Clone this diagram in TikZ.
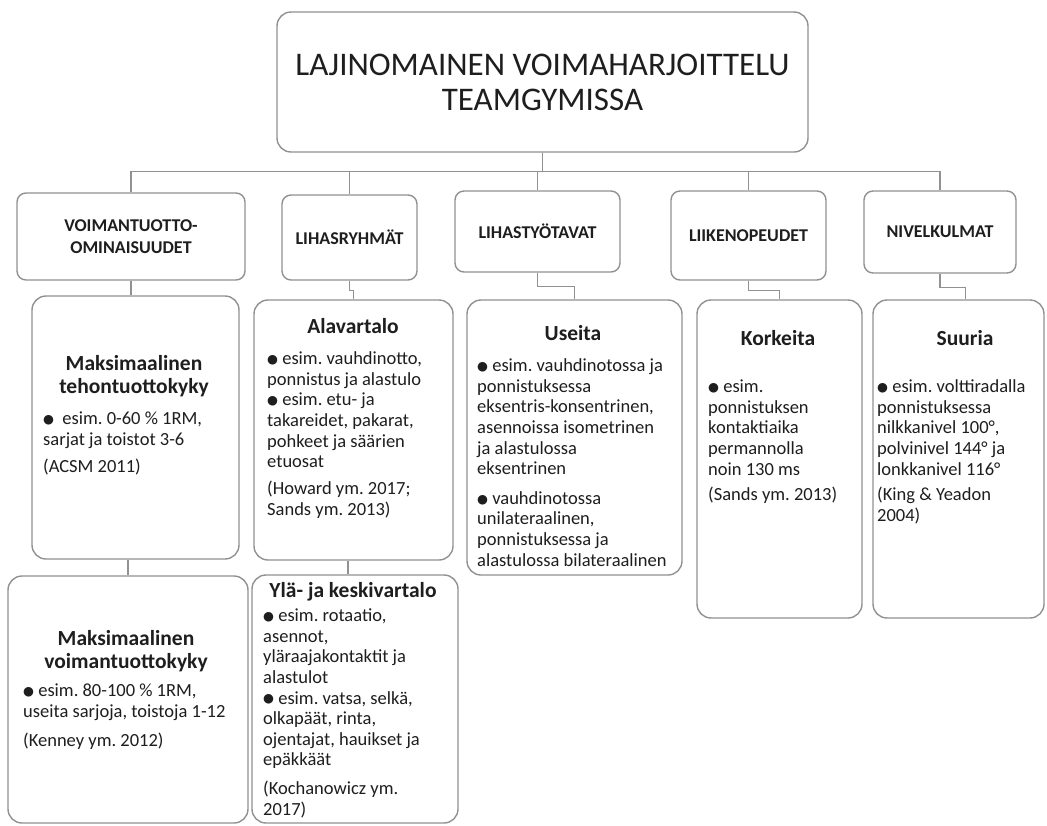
\documentclass[tikz,border=0pt]{standalone}
\usepackage{fontspec}
\setmainfont{Carlito}
\newfontfamily\dejavu{DejaVu Sans}
\newcommand\bul{{\raisebox{1.2pt}{\dejavu\fontsize{12.5}{12}\selectfont ●}}}
\definecolor{lg}{RGB}{145,145,145}
\definecolor{tc}{RGB}{30,30,30}
\frenchspacing
\begin{document}
\frenchspacing
\begin{tikzpicture}[x=1pt,y=-1pt,
  box/.style={draw=lg, line width=1.4pt, rounded corners=14pt, inner sep=0pt, fill=white},
  hdr/.style={box, rounded corners=9pt, align=center, font=\bfseries\fontsize{18}{22}\selectfont, text=tc},
  ttl/.style={anchor=north, align=center, inner sep=0pt, font=\bfseries\fontsize{21.5}{23}\selectfont, text=tc},
  txt/.style={anchor=north west, align=left, inner sep=0pt, font=\frenchspacing\fontsize{18.5}{20.6}\selectfont, text=tc},
  conn/.style={draw=lg, line width=1.4pt}]
\useasboundingbox (0,0) rectangle (1047,825);
\coordinate (bus) at (0,171.5);

% top
\node[box, minimum width=531pt, minimum height=140pt, align=center, text=tc,
  font=\fontsize{33}{35}\selectfont] (top) at (542.5,82)
  {LAJINOMAINEN VOIMAHARJOITTELU\\TEAMGYMISSA};

% headers
\node[hdr, minimum width=228pt, minimum height=87pt] (h1) at (131,236.5) {VOIMANTUOTTO-\\OMINAISUUDET};
\node[hdr, minimum width=135pt, minimum height=85pt] (h2) at (349.5,237.5) {LIHASRYHMÄT};
\node[hdr, minimum width=165pt, minimum height=81pt] (h3) at (537.5,231.5) {LIHASTYÖTAVAT};
\node[hdr, minimum width=155pt, minimum height=89pt] (h4) at (748.5,235.5) {LIIKENOPEUDET};
\node[hdr, minimum width=152pt, minimum height=82pt] (h5) at (940,232) {NIVELKULMAT};

% content boxes
\node[box, minimum width=207pt, minimum height=263pt] (c1a) at (135.5,427.5) {};
\node[box, minimum width=240pt, minimum height=247pt] (c1b) at (128,699.5) {};
\node[box, minimum width=199pt, minimum height=260pt] (c2a) at (353.5,430) {};
\node[box, minimum width=206pt, minimum height=248pt] (c2b) at (355,699) {};
\node[box, minimum width=215pt, minimum height=275pt] (c3) at (574.5,437.5) {};
\node[box, minimum width=165pt, minimum height=318pt] (c4) at (779.5,459) {};
\node[box, minimum width=171pt, minimum height=318pt] (c5) at (958.5,459) {};

% connectors
\draw[conn] (top.south) -- (top.south |- bus) -| (h1.north);
\draw[conn] (top.south) -- (top.south |- bus) -| (h2.north);
\draw[conn] (top.south) -- (top.south |- bus) -| (h3.north);
\draw[conn] (top.south) -- (top.south |- bus) -| (h4.north);
\draw[conn] (top.south) -- (top.south |- bus) -| (h5.north);
\draw[conn] (h1.south) -- (h1.south |- c1a.north);
\draw[conn] (c1b.north) -- (c1b.north |- c1a.south);
\draw[conn] (h2.south) -- ++(0,10) -| (c2a.north);
\draw[conn] ([xshift=-7pt]c2b.north) -- ([xshift=-7pt]c2b.north |- c2a.south);
\draw[conn] (h3.south) -- ++(0,14) -| (c3.north);
\draw[conn] (h4.south) -- ++(0,10) -| (c4.north);
\draw[conn] (h5.south) -- ++(0,14) -| ([xshift=7pt]c5.north);

% column 1
\node[ttl] (t1a) at (134,354) {\strut Maksimaalinen\\tehontuottokyky};
\node[txt] (b1a) at (43,410) {\strut\bul\ \ esim. 0-60 \% 1RM,\\sarjat ja toistot 3-6\\[6.5pt](ACSM 2011)};
\node[ttl] (t1b) at (126,629) {\strut Maksimaalinen\\voimantuottokyky};
\node[txt] (b1b) at (23,682) {\strut\bul\ esim. 80-100 \% 1RM,\\useita sarjoja, toistoja 1-12\\[9pt](Kenney ym. 2012)};

% column 2
\node[ttl] (t2a) at (353,317) {\strut Alavartalo};
\node[txt] (b2a) at (267,350) {\strut\bul\ esim. vauhdinotto,\\ponnistus ja alastulo\\\bul\ esim. etu- ja\\takareidet, pakarat,\\pohkeet ja säärien\\etuosat\\[6.5pt](Howard ym. 2017;\\Sands ym. 2013)};
\node[ttl] (t2b) at (353,581) {\strut Ylä- ja keskivartalo};
\node[txt] (b2b) at (263,607) {\strut\bul\ esim. rotaatio,\\asennot,\\yläraajakontaktit ja\\alastulot\\\bul\ esim. vatsa, selkä,\\olkapäät, rinta,\\ojentajat, hauikset ja\\epäkkäät\\[8pt](Kochanowicz ym.\\2017)};

% column 3
\node[ttl] (t3) at (573,324) {\strut Useita};
\node[txt] (b3) at (477,357) {\strut\bul\ esim. vauhdinotossa ja\\ponnistuksessa\\eksentris-konsentrinen,\\asennoissa isometrinen\\ja alastulossa\\eksentrinen\\[9pt]\bul\ vauhdinotossa\\unilateraalinen,\\ponnistuksessa ja\\alastulossa bilateraalinen};

% column 4
\node[ttl] (t4) at (778,329) {\strut Korkeita};
\node[txt] (b4) at (708,378) {\strut\bul\ esim.\\ponnistuksen\\kontaktiaika\\permannolla\\noin 130 ms\\[5pt](Sands ym. 2013)};

% column 5
\node[ttl] (t5) at (965,329) {\strut Suuria};
\node[txt] (b5) at (877,378) {\strut\bul\ esim. volttiradalla\\ponnistuksessa\\nilkkanivel 100°,\\polvinivel 144° ja\\lonkkanivel 116°\\[5pt](King \& Yeadon\\2004)};
\end{tikzpicture}
\end{document}
